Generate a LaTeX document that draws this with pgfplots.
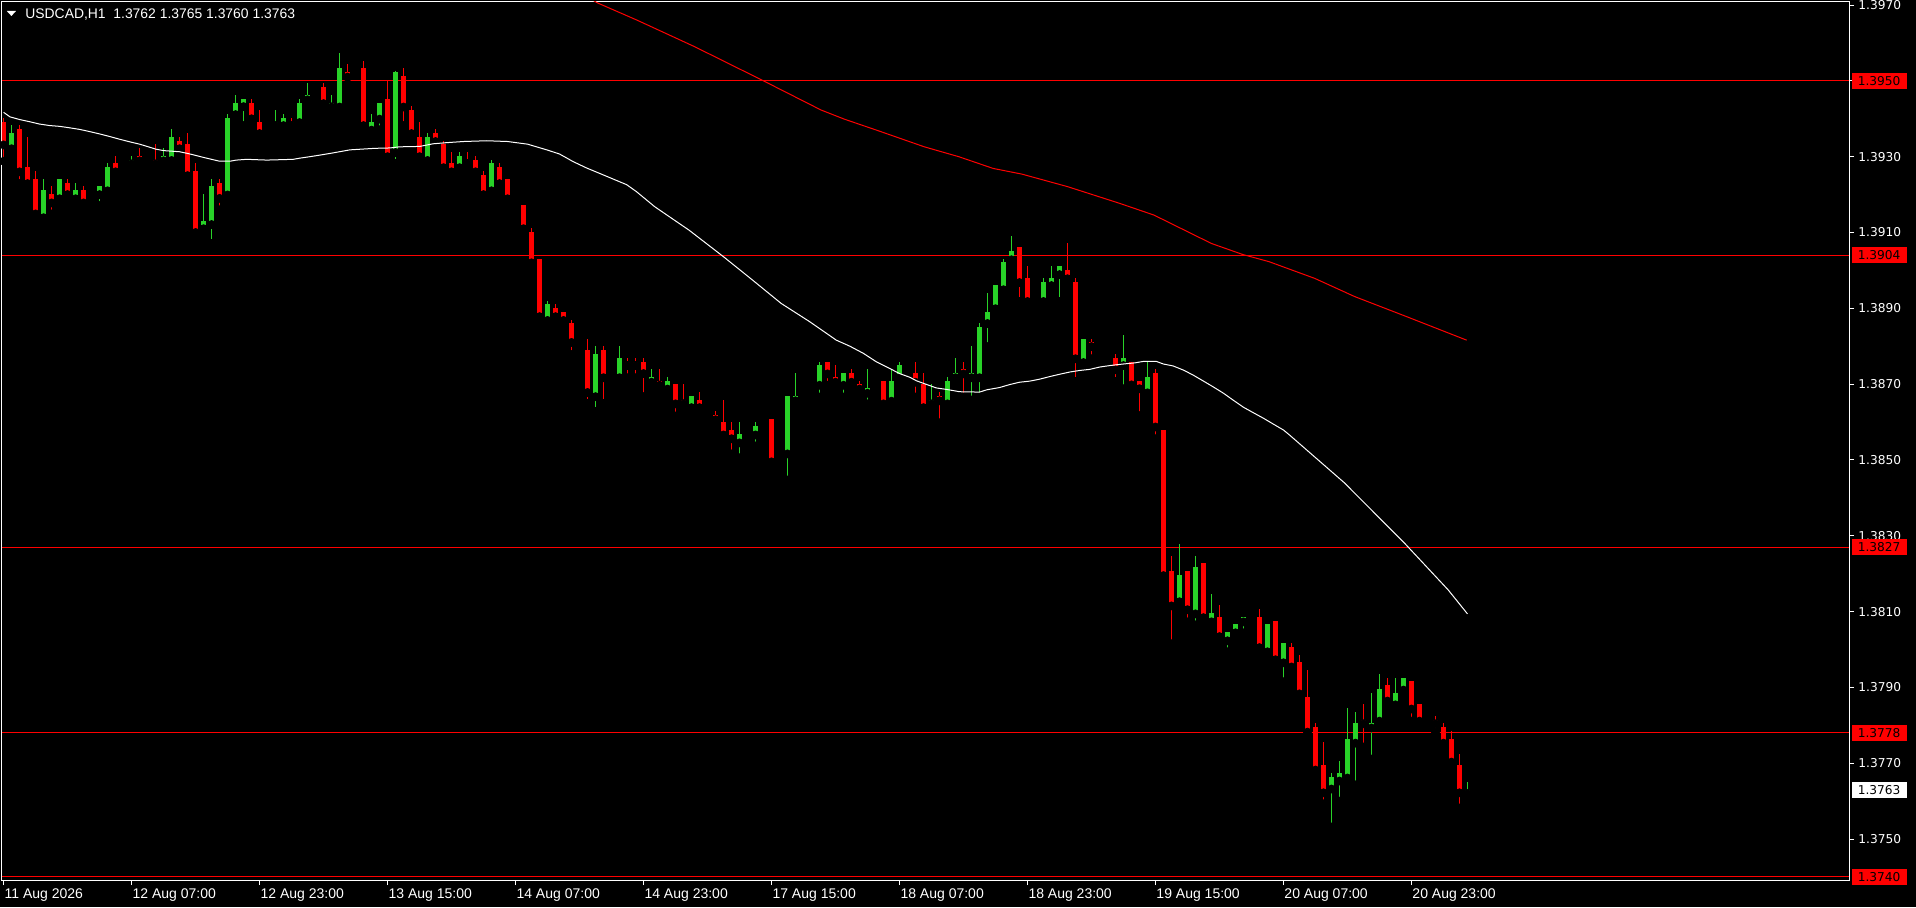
\documentclass[border=0pt]{standalone}
\usepackage{pgfplots}
\pgfplotsset{compat=1.18}
\usepackage{pgfplotstable}
\usetikzlibrary{calc}
\usepackage{fontspec}
\newfontfamily\dvs{DejaVu Sans}
\newfontfamily\lib{Liberation Sans}
\definecolor{cgreen}{RGB}{40,210,40}
\definecolor{cred}{RGB}{255,0,0}
\pgfdeclarelayer{bgl}
\pgfsetlayers{bgl,main}

\pgfplotstableread{
i o h l c
1 1.39321 1.39383 1.39310 1.39362
5 1.39139 1.39241 1.39139 1.39212
7 1.39189 1.39241 1.39178 1.39241
9 1.39189 1.39230 1.39189 1.39212
12 1.39200 1.39222 1.39171 1.39222
13 1.39210 1.39283 1.39210 1.39273
16 1.39281 1.39302 1.39271 1.39291
20 1.39289 1.39323 1.39271 1.39302
21 1.39290 1.39373 1.39271 1.39352
25 1.39110 1.39202 1.39089 1.39131
26 1.39121 1.39241 1.39071 1.39223
28 1.39199 1.39413 1.39190 1.39402
29 1.39411 1.39463 1.39390 1.39442
30 1.39432 1.39452 1.39382 1.39452
34 1.39382 1.39423 1.39371 1.39392
35 1.39382 1.39413 1.39382 1.39402
37 1.39390 1.39452 1.39382 1.39442
38 1.39450 1.39495 1.39440 1.39463
41 1.39431 1.39463 1.39431 1.39442
42 1.39431 1.39573 1.39431 1.39534
46 1.39370 1.39413 1.39350 1.39392
47 1.39399 1.39442 1.39371 1.39442
49 1.39311 1.39527 1.39282 1.39523
53 1.39290 1.39362 1.39290 1.39352
57 1.39271 1.39312 1.39260 1.39302
61 1.39210 1.39292 1.39210 1.39284
68 1.38868 1.38920 1.38849 1.38912
74 1.38667 1.38801 1.38628 1.38780
77 1.38717 1.38801 1.38707 1.38769
81 1.38705 1.38740 1.38705 1.38718
83 1.38687 1.38718 1.38687 1.38708
86 1.38638 1.38668 1.38627 1.38668
92 1.38545 1.38600 1.38506 1.38568
94 1.38566 1.38600 1.38537 1.38589
98 1.38516 1.38668 1.38447 1.38668
99 1.38656 1.38729 1.38638 1.38668
102 1.38697 1.38758 1.38666 1.38750
105 1.38697 1.38729 1.38666 1.38729
108 1.38676 1.38740 1.38648 1.38689
111 1.38655 1.38740 1.38648 1.38708
112 1.38717 1.38758 1.38705 1.38750
116 1.38648 1.38700 1.38638 1.38658
118 1.38648 1.38718 1.38648 1.38708
119 1.38717 1.38769 1.38705 1.38729
121 1.38717 1.38801 1.38658 1.38729
122 1.38717 1.38861 1.38667 1.38851
123 1.38860 1.38940 1.38799 1.38890
124 1.38899 1.38962 1.38889 1.38962
125 1.38949 1.39030 1.38949 1.39022
126 1.39028 1.39091 1.39028 1.39051
130 1.38918 1.38980 1.38918 1.38970
131 1.38960 1.39012 1.38949 1.38980
132 1.38989 1.39012 1.38918 1.39012
135 1.38757 1.38819 1.38737 1.38819
140 1.38749 1.38830 1.38688 1.38769
143 1.38677 1.38758 1.38667 1.38719
147 1.38126 1.38278 1.38105 1.38196
149 1.38094 1.38246 1.38065 1.38217
151 1.38073 1.38146 1.38055 1.38096
153 1.38023 1.38046 1.37994 1.38046
154 1.38044 1.38067 1.38044 1.38067
155 1.38073 1.38086 1.38044 1.38086
158 1.37994 1.38067 1.37984 1.38067
160 1.37965 1.38017 1.37915 1.38017
166 1.37632 1.37674 1.37532 1.37664
167 1.37653 1.37706 1.37600 1.37674
168 1.37661 1.37846 1.37653 1.37764
169 1.37753 1.37835 1.37643 1.37806
171 1.37793 1.37885 1.37711 1.37806
172 1.37811 1.37935 1.37804 1.37896
174 1.37854 1.37925 1.37854 1.37885
175 1.37893 1.37925 1.37872 1.37925
183 1.37620 1.37650 1.37600 1.37630
}\greens

\pgfplotstableread{
i o h l c
0 1.39391 1.39403 1.39288 1.39331
2 1.39373 1.39383 1.39229 1.39260
3 1.39273 1.39352 1.39229 1.39229
4 1.39241 1.39262 1.39149 1.39149
6 1.39201 1.39222 1.39149 1.39178
8 1.39230 1.39241 1.39200 1.39200
10 1.39212 1.39222 1.39178 1.39178
14 1.39283 1.39302 1.39260 1.39260
17 1.39302 1.39323 1.39289 1.39289
19 1.39291 1.39333 1.39271 1.39281
22 1.39342 1.39352 1.39300 1.39321
23 1.39334 1.39363 1.39240 1.39250
24 1.39262 1.39284 1.39100 1.39100
27 1.39231 1.39241 1.39160 1.39190
31 1.39442 1.39452 1.39400 1.39400
32 1.39392 1.39423 1.39340 1.39361
36 1.39392 1.39402 1.39361 1.39382
40 1.39484 1.39495 1.39431 1.39440
43 1.39523 1.39544 1.39510 1.39510
45 1.39534 1.39552 1.39371 1.39382
48 1.39452 1.39502 1.39300 1.39300
50 1.39513 1.39534 1.39382 1.39431
51 1.39423 1.39434 1.39340 1.39361
52 1.39352 1.39392 1.39290 1.39300
54 1.39362 1.39373 1.39332 1.39340
55 1.39334 1.39341 1.39271 1.39271
56 1.39283 1.39312 1.39260 1.39260
58 1.39291 1.39312 1.39271 1.39282
59 1.39291 1.39302 1.39260 1.39260
60 1.39252 1.39262 1.39200 1.39200
62 1.39273 1.39284 1.39210 1.39229
63 1.39242 1.39242 1.39189 1.39189
65 1.39173 1.39173 1.39099 1.39110
66 1.39102 1.39112 1.39020 1.39020
67 1.39031 1.39031 1.38878 1.38878
69 1.38901 1.38912 1.38878 1.38878
70 1.38891 1.38891 1.38849 1.38868
71 1.38862 1.38870 1.38778 1.38810
73 1.38790 1.38819 1.38649 1.38678
75 1.38790 1.38801 1.38649 1.38717
78 1.38759 1.38769 1.38717 1.38749
79 1.38759 1.38769 1.38717 1.38749
80 1.38759 1.38769 1.38667 1.38728
82 1.38708 1.38740 1.38697 1.38697
84 1.38700 1.38700 1.38616 1.38648
85 1.38658 1.38700 1.38648 1.38648
87 1.38658 1.38679 1.38638 1.38638
89 1.38618 1.38629 1.38587 1.38606
90 1.38600 1.38658 1.38556 1.38566
91 1.38579 1.38600 1.38516 1.38556
96 1.38608 1.38608 1.38487 1.38495
103 1.38758 1.38758 1.38697 1.38727
104 1.38718 1.38750 1.38687 1.38705
106 1.38729 1.38740 1.38705 1.38705
107 1.38700 1.38708 1.38676 1.38687
110 1.38708 1.38708 1.38648 1.38648
114 1.38729 1.38758 1.38666 1.38705
115 1.38700 1.38729 1.38616 1.38638
117 1.38668 1.38679 1.38598 1.38656
120 1.38740 1.38758 1.38666 1.38727
127 1.39062 1.39062 1.38918 1.38968
128 1.38980 1.39012 1.38918 1.38918
133 1.39001 1.39072 1.38968 1.38978
134 1.38970 1.38980 1.38707 1.38767
136 1.38811 1.38819 1.38767 1.38799
139 1.38769 1.38780 1.38707 1.38738
141 1.38758 1.38758 1.38677 1.38698
142 1.38708 1.38708 1.38617 1.38688
144 1.38729 1.38740 1.38556 1.38587
145 1.38579 1.38579 1.38195 1.38195
146 1.38207 1.38246 1.38015 1.38115
148 1.38207 1.38207 1.38073 1.38105
150 1.38228 1.38228 1.38065 1.38084
152 1.38086 1.38117 1.38023 1.38034
157 1.38086 1.38107 1.37994 1.38005
159 1.38075 1.38075 1.37973 1.37973
161 1.38007 1.38017 1.37943 1.37954
162 1.37967 1.37986 1.37872 1.37883
163 1.37875 1.37946 1.37761 1.37782
164 1.37796 1.37806 1.37682 1.37682
165 1.37695 1.37756 1.37593 1.37622
170 1.37814 1.37856 1.37743 1.37804
173 1.37906 1.37925 1.37843 1.37864
176 1.37917 1.37917 1.37811 1.37843
177 1.37856 1.37856 1.37811 1.37811
179 1.37814 1.37825 1.37782 1.37804
180 1.37796 1.37806 1.37743 1.37753
181 1.37764 1.37785 1.37693 1.37703
182 1.37695 1.37724 1.37582 1.37622
}\reds

\begin{document}
\begin{tikzpicture}[x=1pt,y=1pt]
\begin{axis}[
  scale only axis, width=923.5pt, height=439pt,
  xmin=-0.2, xmax=230.7, ymin=1.37392, ymax=1.39708,
  axis line style={white, line width=0.5pt},
  clip mode=individual,
  tick align=outside,
  major tick length=2.5pt,
  tick style={white, line width=0.5pt},
  xtick pos=bottom, ytick pos=right, yticklabel pos=right,
  xtick={0,16,32,48,64,80,96,112,128,144,160,176},
  xticklabels={11 Aug 2026,12 Aug 07:00,12 Aug 23:00,13 Aug 15:00,14 Aug 07:00,14 Aug 23:00,17 Aug 15:00,18 Aug 07:00,18 Aug 23:00,19 Aug 15:00,20 Aug 07:00,20 Aug 23:00},
  ytick={1.375,1.377,1.379,1.381,1.383,1.385,1.387,1.389,1.391,1.393,1.395,1.397},
  yticklabels={1.3750,1.3770,1.3790,1.3810,1.3830,1.3850,1.3870,1.3890,1.3910,1.3930,,1.3970},
  xticklabel style={font=\lib\fontsize{7}{8}\selectfont, text=white, anchor=base west, inner sep=0pt, xshift=0.3pt, yshift=-6.5pt},
  yticklabel style={font=\dvs\fontsize{6.1}{7}\selectfont, text=white, anchor=west, inner sep=0pt, xshift=2pt},
  scaled y ticks=false,
]
\coordinate (LL) at (rel axis cs:0,0);
% horizontal levels
\addplot[cred, line width=0.5pt, forget plot] coordinates {(-0.2,1.3950) (230.7,1.3950)};
\addplot[cred, line width=0.5pt, forget plot] coordinates {(-0.2,1.3904) (230.7,1.3904)};
\addplot[cred, line width=0.5pt, forget plot] coordinates {(-0.2,1.3827) (230.7,1.3827)};
\addplot[cred, line width=0.5pt, forget plot] coordinates {(-0.2,1.3778) (230.7,1.3778)};
\addplot[cred, line width=0.5pt, forget plot] coordinates {(-0.2,1.3740) (230.7,1.3740)};
% wicks
\addplot[only marks, mark=none, forget plot,
  error bars/.cd, y dir=plus, y explicit, error mark=none,
  error bar style={draw=cgreen, line width=0.5pt}]
  table[x=i, y=l, y error plus expr=\thisrow{h}-\thisrow{l}] {\greens};
\addplot[only marks, mark=none, forget plot,
  error bars/.cd, y dir=plus, y explicit, error mark=none,
  error bar style={draw=cred, line width=0.5pt}]
  table[x=i, y=l, y error plus expr=\thisrow{h}-\thisrow{l}] {\reds};
% bodies
\addplot[only marks, mark=none, forget plot,
  error bars/.cd, y dir=plus, y explicit, error mark=none,
  error bar style={draw=cgreen, line width=2.5pt}]
  table[x=i, y=o, y error plus expr={max(\thisrow{c}-\thisrow{o},0.00003)}] {\greens};
\addplot[only marks, mark=none, forget plot,
  error bars/.cd, y dir=plus, y explicit, error mark=none,
  error bar style={draw=cred, line width=2.5pt}]
  table[x=i, y=c, y error plus expr={max(\thisrow{o}-\thisrow{c},0.00003)}] {\reds};
% moving averages
\addplot[white, line width=0.5pt, forget plot] coordinates {
(0,1.39417) (0.8,1.39405) (2,1.39398) (3.3,1.39392) (4.5,1.39386) (5.8,1.39382) (7,1.39380) (8.3,1.39376) (9.5,1.39372) (10.8,1.39366) (12,1.39360) (13.3,1.39353) (14.5,1.39346) (15.8,1.39339) (17,1.39333) (18.1,1.39326) (19,1.39320) (20,1.39316) (22,1.39313) (22.9,1.39309) (23.7,1.39305) (25,1.39298) (26,1.39293) (27,1.39288) (28.3,1.39288) (29.1,1.39291) (30.4,1.39293) (32.9,1.39291) (36.2,1.39293) (37,1.39296) (38.3,1.39300) (39.5,1.39304) (41.2,1.39310) (43.3,1.39318) (46.4,1.39322) (48.3,1.39323) (49.5,1.39326) (52,1.39327) (53.7,1.39334) (55.4,1.39337) (57.5,1.39340) (60.4,1.39342) (63,1.39340) (65.5,1.39333) (67.9,1.39318) (69.5,1.39307) (71.2,1.39287) (72.9,1.39270) (74.5,1.39256) (76.2,1.39241) (77.9,1.39226) (79.1,1.39208) (81.4,1.39168) (85.7,1.39106) (90,1.39036) (93.6,1.38975) (97.2,1.38913) (100.75,1.38865) (104.1,1.38816) (105.8,1.38800) (107.5,1.38781) (109.1,1.38759) (110.8,1.38741) (112,1.38728) (113.3,1.38718) (114.1,1.38709) (115.4,1.38699) (116.6,1.38690) (117.9,1.38686) (119.5,1.38680) (122,1.38679) (122.9,1.38685) (124.5,1.38691) (125.8,1.38699) (127,1.38705) (128.3,1.38708) (129.5,1.38713) (130.8,1.38720) (132,1.38726) (133.3,1.38732) (134.5,1.38736) (135.8,1.38739) (137,1.38745) (138.3,1.38749) (139.5,1.38752) (140.4,1.38754) (141.4,1.38756) (142.5,1.38760) (144.1,1.38760) (145,1.38753) (146.2,1.38748) (147.5,1.38737) (148.7,1.38724) (150,1.38708) (151.2,1.38693) (152.5,1.38676) (153.7,1.38658) (155,1.38639) (156.2,1.38625) (157.5,1.38610) (158.7,1.38595) (160,1.38579) (160.8,1.38565) (167.6,1.38440) (175.2,1.38279) (180.6,1.38157) (183,1.38094)};
\addplot[cred, line width=0.5pt, forget plot] coordinates {
(73.5,1.39715) (74.2,1.39706) (79.2,1.39660) (86.4,1.39590) (94.9,1.39501) (102.2,1.39423) (105.1,1.39399) (109.4,1.39368) (115.1,1.39326) (119.4,1.39300) (123.7,1.39269) (127.3,1.39254) (133,1.39221) (139.5,1.39177) (143.8,1.39146) (151,1.39071) (154.9,1.39042) (158.2,1.39023) (163.9,1.38979) (168.9,1.38931) (175.4,1.38878) (182.9,1.38816)};
% price boxes
\node[fill=cred, text=black, font=\dvs\fontsize{6.1}{7}\selectfont, anchor=west, inner xsep=3pt, inner ysep=0pt, minimum height=8pt] at (axis cs:230.7,1.3950) [xshift=1.2pt] {1.3950};
\node[fill=cred, text=black, font=\dvs\fontsize{6.1}{7}\selectfont, anchor=west, inner xsep=3pt, inner ysep=0pt, minimum height=8pt] at (axis cs:230.7,1.3904) [xshift=1.2pt] {1.3904};
\node[fill=cred, text=black, font=\dvs\fontsize{6.1}{7}\selectfont, anchor=west, inner xsep=3pt, inner ysep=0pt, minimum height=8pt] at (axis cs:230.7,1.3827) [xshift=1.2pt] {1.3827};
\node[fill=cred, text=black, font=\dvs\fontsize{6.1}{7}\selectfont, anchor=west, inner xsep=3pt, inner ysep=0pt, minimum height=8pt] at (axis cs:230.7,1.3778) [xshift=1.2pt] {1.3778};
\node[fill=cred, text=black, font=\dvs\fontsize{6.1}{7}\selectfont, anchor=west, inner xsep=3pt, inner ysep=0pt, minimum height=8pt] at (axis cs:230.7,1.3740) [xshift=1.2pt] {1.3740};
\node[fill=white, text=black, font=\dvs\fontsize{6.1}{7}\selectfont, anchor=west, inner xsep=3pt, inner ysep=0pt, minimum height=8pt] at (axis cs:230.7,1.3763) [xshift=1.2pt] {1.3763};
\end{axis}
\coordinate (O) at ($(LL)+(-1,-13.5)$);
\begin{pgfonlayer}{bgl}
\fill[black] (O) rectangle ++(958,453.5);
\end{pgfonlayer}
% header
\fill[white] ($(O)+(3.4,448)$) -- ($(O)+(8,448)$) -- ($(O)+(5.7,445.5)$) -- cycle;
\node[anchor=base west, inner sep=0pt, text=white, font=\lib\fontsize{6.95}{8}\selectfont] at ($(O)+(12.5,444.2)$) {USDCAD,H1\ \ 1.3762 1.3765 1.3760 1.3763};
\pgfresetboundingbox
\useasboundingbox (O) rectangle ++(958,453.5);
\end{tikzpicture}
\end{document}
